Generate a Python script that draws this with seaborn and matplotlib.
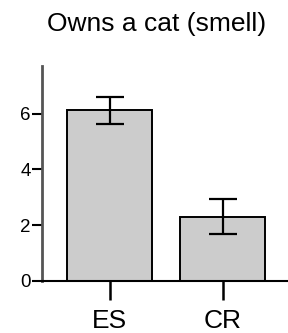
import pandas as pd
import numpy as np
import matplotlib
matplotlib.use('Agg')
import matplotlib.pyplot as plt
import seaborn as sns

# Values
groups = ['ES', 'CR']
means = [6.12, 2.30]
errors = [0.49, 0.62]

df = pd.DataFrame({'group': groups, 'mean': means, 'err': errors})

sns.set_style('ticks')
plt.rcParams['font.family'] = ['Liberation Sans', 'DejaVu Sans']
plt.rcParams['text.color'] = 'black'
plt.rcParams['xtick.labelcolor'] = 'black'
plt.rcParams['ytick.labelcolor'] = 'black'

fig = plt.figure(figsize=(2.88, 3.33), dpi=100)
ax = fig.add_axes([0.145, 0.157, 0.855, 0.645])

sns.barplot(data=df, x='group', y='mean', color='#cccccc', saturation=1,
            width=0.75, edgecolor='black', linewidth=1.4, errorbar=None, ax=ax)

# Error bars on top of the bars
ax.errorbar(x=np.arange(len(df)), y=df['mean'], yerr=df['err'], fmt='none',
            ecolor='black', elinewidth=1.6, capsize=10, capthick=1.6, zorder=5)

ax.set_xlim(-0.6, 1.575)
ax.set_ylim(0, 7.72)
ax.set_yticks([0, 2, 4, 6])
ax.set_xlabel('')
ax.set_ylabel('')
ax.set_title('Owns a cat (smell)', fontsize=19, pad=25, x=0.467, color='black')

sns.despine(ax=ax)
ax.spines['left'].set_color('#555555')
ax.spines['left'].set_linewidth(2)
ax.spines['bottom'].set_color('black')
ax.spines['bottom'].set_linewidth(1.5)

ax.tick_params(axis='y', length=7, width=1.5, color='black', labelsize=13.5, pad=1)
ax.tick_params(axis='x', length=13.5, width=1.8, color='black', labelsize=19, pad=7)

fig.savefig('out.png', dpi=100)
